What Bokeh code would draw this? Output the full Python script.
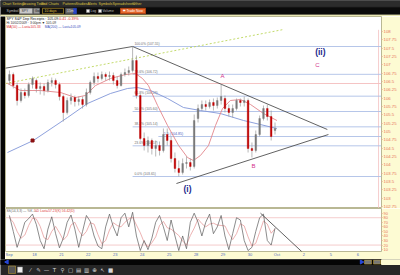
from bokeh.plotting import figure
from bokeh.layouts import column, row
from bokeh.models import Range1d, FixedTicker, LinearAxis, Label, ColumnDataSource
from bokeh.core.properties import value
from bokeh.embed import file_html
from bokeh.resources import INLINE

FONT = value("Liberation Sans")

# ---------------- data ----------------
session_labels = ["Sep", "18", "21", "22", "23", "24", "25", "28", "29", "30", "Oct", "2", "5", "6"]
bars_per_session = 7
traded_sessions = 10

opens = [106.53, 106.71, 106.38, 105.93, 106.17, 106.08, 106.41,
         106.53, 106.29, 106.35, 106.23, 106.47, 106.53, 106.41,
         106.05, 105.57, 105.93, 106.02, 105.90, 105.96, 105.81,
         106.17, 106.47, 106.65, 106.59, 106.71, 106.65, 106.68,
         106.53, 106.38, 106.71, 106.77, 106.83, 107.13, 106.08,
         104.79, 104.58, 104.73, 104.49, 104.58, 104.43, 104.91,
         104.73, 104.19, 103.89, 103.77, 104.04, 104.07, 103.95,
         105.39, 105.69, 105.81, 105.75, 105.87, 105.78, 105.93,
         105.99, 105.69, 105.57, 105.69, 105.93, 105.87, 105.93,
         104.49, 104.43, 104.91, 105.39, 105.69, 105.45, 105.03]
highs = [106.83, 106.77, 106.47, 106.29, 106.29, 106.47, 106.65,
         106.59, 106.47, 106.44, 106.56, 106.62, 106.59, 106.47,
         106.11, 106.02, 106.14, 106.08, 106.05, 106.05, 106.29,
         106.53, 106.77, 106.77, 106.80, 106.77, 106.80, 106.77,
         106.65, 106.77, 106.89, 106.95, 107.55, 107.28, 106.14,
         104.97, 104.85, 104.79, 104.73, 104.70, 105.09, 105.09,
         104.85, 104.37, 104.13, 104.19, 104.25, 104.19, 105.51,
         105.81, 105.93, 105.93, 105.96, 105.99, 106.02, 106.41,
         106.08, 105.81, 105.81, 105.99, 105.99, 106.05, 105.99,
         104.67, 105.03, 105.48, 105.78, 105.81, 105.63, 105.27]
lows = [106.41, 106.29, 105.78, 105.87, 105.99, 106.02, 106.29,
        106.17, 106.11, 106.08, 106.17, 106.35, 106.29, 105.93,
        105.30, 105.51, 105.81, 105.75, 105.78, 105.69, 105.75,
        106.11, 106.38, 106.47, 106.53, 106.53, 106.53, 106.41,
        106.29, 106.35, 106.65, 106.68, 106.77, 105.99, 104.73,
        104.43, 104.37, 104.31, 104.25, 104.28, 104.37, 104.58,
        104.07, 103.77, 103.65, 103.71, 103.89, 103.83, 103.89,
        105.27, 105.63, 105.63, 105.69, 105.63, 105.69, 105.81,
        105.57, 105.45, 105.42, 105.63, 105.75, 105.75, 104.37,
        104.22, 104.37, 104.85, 105.33, 105.33, 104.73, 104.91]
closes = [106.71, 106.38, 105.93, 106.17, 106.08, 106.41, 106.59,
          106.29, 106.35, 106.23, 106.47, 106.53, 106.41, 106.05,
          105.57, 105.93, 106.02, 105.90, 105.96, 105.81, 106.17,
          106.47, 106.65, 106.59, 106.71, 106.65, 106.68, 106.53,
          106.38, 106.71, 106.77, 106.83, 107.13, 106.08, 104.79,
          104.58, 104.73, 104.49, 104.58, 104.43, 104.91, 104.73,
          104.19, 103.89, 103.77, 104.04, 104.07, 103.95, 105.33,
          105.69, 105.81, 105.75, 105.87, 105.78, 105.93, 106.05,
          105.69, 105.57, 105.69, 105.93, 105.87, 105.93, 104.49,
          104.43, 104.91, 105.39, 105.69, 105.45, 104.85, 105.09]

ma_fast_t = [0.0, 0.48, 1.22, 1.97, 2.52, 2.89, 3.27, 3.82, 4.38, 4.75, 5.01, 5.23, 5.57,
             5.94, 6.35, 6.68, 6.90, 7.16, 7.46, 7.72, 7.98, 8.27, 8.65, 9.02, 9.50, 10.0]
ma_fast = [106.44, 106.23, 106.23, 106.17, 106.02, 106.08, 106.38, 106.59, 106.71, 106.74, 106.59,
           106.38, 105.78, 105.18, 104.58, 104.22, 104.13, 104.28, 104.58, 105.18, 105.69, 105.93,
           105.96, 105.81, 105.54, 105.33]
ma_slow_t = [0.0, 0.96, 2.23, 2.97, 3.82, 4.45, 4.82, 5.31, 5.94, 6.53, 7.16, 7.90, 8.76, 10.0]
ma_slow = [104.37, 104.73, 105.42, 105.84, 106.14, 106.29, 106.32, 106.23, 105.99, 105.72,
           105.63, 105.54, 105.33, 105.09]

stoch_k = [85, 50, 15, 40, 70, 78, 88, 65, 30, 12, 55, 82, 45, 14,
           35, 70, 86, 55, 15, 50, 85, 72, 40, 18, 12, 60, 88, 60,
           40, 80, 90, 60, 92, 40, 8, 30, 10, 35, 70, 85, 60, 30,
           75, 40, 8, 40, 12, 70, 90, 70, 40, 70, 88, 45, 60, 85,
           40, 10, 45, 80, 75, 30, 8, 15, 50, 80, 88, 30, 20, 57]
stoch_d = [80, 70, 50, 35, 42, 63, 79, 77, 61, 36, 32, 50, 61, 47,
           31, 40, 64, 70, 52, 40, 50, 69, 66, 43, 23, 30, 53, 69,
           63, 60, 70, 77, 81, 64, 47, 26, 16, 25, 38, 63, 72, 58,
           55, 48, 41, 29, 20, 41, 57, 77, 67, 60, 66, 68, 64, 63,
           62, 45, 32, 45, 67, 62, 38, 18, 24, 48, 73, 66, 46, 56]

fib_pcts = [0.0, 23.6, 38.2, 50.0, 61.8, 78.6, 100.0]
fib_low = 103.65
fib_high = 107.55
fib_start_t = 4.643
ext_label = "1.5 (104.85)"
ext_level = 104.85
ext_start_t = 5.60
ref_level = 106.44
price_ticks = [102.75, 103.00, 103.25, 103.50, 103.75, 104.00, 104.25, 104.50, 104.75,
               105.00, 105.25, 105.50, 105.75, 106.00, 106.25, 106.50, 106.75, 107.00,
               107.25, 107.50, 107.75, 108.00]
stoch_ticks = [10, 20, 30, 40, 50, 60, 70, 80, 90]
last_price = 105.09
net_change = -0.41
pct_change = -0.39

trend_top_t, trend_top_p = [-0.15, 4.643], [106.89, 107.55]
trend_upper_t, trend_upper_p = [4.643, 11.87], [107.55, 105.06]
trend_lower_t, trend_lower_p = [6.27, 11.91], [103.44, 104.91]
trend_green_t, trend_green_p = [-0.074, 10.24], [106.44, 108.06]
stoch_trend_t, stoch_trend_v = [9.39, 10.95], [90, 4]

wave_text = ["A", "B", "C", "(i)", "(ii)"]
wave_t = [7.98, 9.13, 11.50, 6.68, 11.61]
wave_p = [106.68, 103.98, 107.01, 103.29, 107.40]
event_t, event_p = [0.93], [104.73]

# ---------------- derived ----------------
bar_t = [s + (k + 0.5) / bars_per_session for s in range(traded_sessions) for k in range(bars_per_session)]
up = [c >= o for o, c in zip(opens, closes)]
src = ColumnDataSource(dict(
    t=bar_t, o=opens, h=highs, l=lows, c=closes,
    top=[max(o, c) for o, c in zip(opens, closes)],
    bot=[min(o, c) for o, c in zip(opens, closes)],
    col=["#7a7a7a" if u else "#c00000" for u in up],
))

YEL = "#fdfbd3"
xr = Range1d(-0.074, 13.88)

# ---------------- header ----------------
hdr = figure(width=400, height=16, x_range=Range1d(0, 400), y_range=Range1d(16, 0),
             toolbar_location=None, output_backend="svg", min_border=0,
             x_axis_location=None, y_axis_location=None)
hdr.background_fill_color = "#0b0b0b"
hdr.border_fill_color = "#0b0b0b"
hdr.outline_line_color = None
hdr.grid.visible = False
hdr.quad(left=0, right=400, top=0, bottom=6.3, color="#2c2c2c")
hdr.quad(left=0, right=400, top=14.6, bottom=16, color="#e9e7b4")
menu = ["Chart Settings", "Drawing Tools", "Grid Charts", "Patterns", "Studies",
        "Alerts", "Symbols", "Spreadsheets", "Other"]
menu_x = [2, 22, 40, 62, 75, 87, 98, 112, 132]
hdr.text(x=menu_x, y=[3.2] * len(menu), text=menu, text_font=FONT, text_font_size="3.6px",
         text_color="#dcc040", text_baseline="middle")
hdr.text(x=[6], y=[10.5], text=["Symbol"], text_font=FONT, text_font_size="3.6px",
         text_color="#bbbbbb", text_baseline="middle")
hdr.quad(left=[19, 33, 42, 65, 73], right=[32, 39, 63, 73, 76], top=[7.8] * 5, bottom=[13.2] * 5,
         fill_color=["#c8c8c8", "#9a9a9a", "#111111", "#6a6a6a", "#2a46c8"],
         line_color=["#888888", "#777777", "#c9a52c", "#555555", "#2a46c8"], line_width=0.6)
hdr.text(x=[21, 34.5, 44, 66.5], y=[10.5] * 4, text=["SPY", "Go", "10 days", "15m"], text_font=FONT,
         text_font_size="3.4px", text_color=["#333333", "#111111", "#e0c040", "#dddddd"],
         text_baseline="middle")
hdr.quad(left=[86, 98], right=[89, 101], top=[9] * 2, bottom=[12] * 2, fill_color="#eeeeee",
         line_color="#999999", line_width=0.5)
hdr.text(x=[90, 102], y=[10.5] * 2, text=["Log", "Volume"], text_font=FONT, text_font_size="3.4px",
         text_color="#bbbbbb", text_baseline="middle")
hdr.quad(left=120, right=145, top=7.8, bottom=13.2, fill_color="#e4662a", line_color="#b04010")
hdr.text(x=[122], y=[10.5], text=["⇄ Trade Now"], text_font=FONT, text_font_size="3.4px",
         text_color="#ffffff", text_baseline="middle")

# ---------------- main price panel ----------------
main = figure(width=395, height=192, x_range=xr, y_range=Range1d(102.69, 108.45),
              toolbar_location=None, output_backend="svg", min_border=0, min_border_right=19,
              x_axis_location=None, y_axis_location=None)
main.background_fill_color = "white"
main.border_fill_color = YEL
main.outline_line_color = "#b9b894"
main.grid.visible = False

yax = LinearAxis(ticker=FixedTicker(ticks=price_ticks))
yax.formatter.use_scientific = False
yax.major_label_text_font_size = "4.3px"
yax.major_label_text_color = "#e8735a"
yax.major_label_text_font = "Liberation Sans"
yax.major_label_standoff = 1
yax.major_tick_out = 1
yax.major_tick_in = 0
yax.major_tick_line_color = "#e8a090"
yax.minor_tick_line_color = None
yax.axis_line_color = None
main.add_layout(yax, "right")

# reference lines
main.segment(x0=[xr.start], y0=[ref_level], x1=[xr.end], y1=[ref_level], line_color="#f2b5b5", line_width=0.8)
main.segment(x0=[13.77], y0=[108.05], x1=[13.77], y1=[102.69], line_color="#f4c0c0", line_width=0.8)
fib_levels = [fib_low + (fib_high - fib_low) * p / 100 for p in fib_pcts]
main.segment(x0=[fib_start_t] * len(fib_levels), y0=fib_levels, x1=[xr.end] * len(fib_levels),
             y1=fib_levels, line_color="#aebfe6", line_width=0.9)
main.segment(x0=[ext_start_t], y0=[ext_level], x1=[xr.end], y1=[ext_level], line_color="#aebfe6",
             line_width=0.9)
main.text(x=[fib_start_t + 0.07] * len(fib_levels), y=[v + 0.02 for v in fib_levels],
          text=["%.1f%% (%.2f)" % (p, v) for p, v in zip(fib_pcts, fib_levels)],
          text_font=FONT, text_font_size="3.4px", text_color="#707070", text_baseline="bottom")
main.text(x=[ext_start_t + 0.2], y=[ext_level + 0.02], text=[ext_label], text_font=FONT,
          text_font_size="3.6px", text_color="#4a62c0", text_baseline="bottom")

# moving averages
main.line(ma_slow_t, ma_slow, line_color="#8196d8", line_width=0.9)
main.line(ma_fast_t, ma_fast, line_color="#e2858a", line_width=0.9)

# trend lines
main.line(trend_green_t, trend_green_p, line_color="#bcd65a", line_width=0.9, line_dash="2 2")
for tx, py in [(trend_top_t, trend_top_p), (trend_upper_t, trend_upper_p), (trend_lower_t, trend_lower_p)]:
    main.line(tx, py, line_color="#3a3a3a", line_width=0.8)

# bars
main.segment(x0="t", y0="h", x1="t", y1="l", source=src, line_color="#9a9a9a", line_width=0.7)
main.vbar(x="t", top="top", bottom="bot", width=0.06, source=src, fill_color="col", line_color="col",
          line_width=0.4)

main.scatter(event_t, event_p, marker="square", size=3, color="#8b1010")

# wave labels
main.text(x=wave_t[:3], y=wave_p[:3], text=wave_text[:3], text_font=FONT, text_font_size="6px",
          text_color="#d3338d", text_align="center", text_baseline="middle")
main.text(x=wave_t[3:], y=wave_p[3:], text=wave_text[3:], text_font=FONT, text_font_size="8.5px",
          text_font_style="bold", text_color="#1c2a8c", text_align="center", text_baseline="middle")

# header lines inside panel
main.add_layout(Label(x=-0.04, y=108.44, text="SPY S&P Dep Receipts : %.2f" % last_price,
                      text_font="Liberation Sans", text_font_size="3.6px", text_color="#111111",
                      text_baseline="top"))
main.add_layout(Label(x=1.88, y=108.44, text="%.2f   %.2f%%" % (net_change, pct_change),
                      text_font="Liberation Sans", text_font_size="3.6px", text_color="#e02020",
                      text_baseline="top"))
main.add_layout(Label(x=-0.04, y=108.31, text="Hi 10/02/2009 · 3:00pm ▼ %.2f" % last_price,
                      text_font="Liberation Sans", text_font_size="3.3px", text_color="#333333",
                      text_baseline="top"))
main.add_layout(Label(x=-0.04, y=108.19, text="MA(50) — Last=%.2f" % ma_fast[-1],
                      text_font="Liberation Sans", text_font_size="3.3px", text_color="#e03030",
                      text_baseline="top"))
main.add_layout(Label(x=1.38, y=108.19, text="MA(200) — Last=%.2f" % ma_slow[-1],
                      text_font="Liberation Sans", text_font_size="3.3px", text_color="#3a50c0",
                      text_baseline="top"))
main.add_layout(Label(x=xr.end, y=last_price, x_offset=0.5, text="%.2f" % last_price,
                      text_font="Liberation Sans", text_font_size="4.3px", text_color="white",
                      background_fill_color="#111111", text_baseline="middle"))

# ---------------- stochastic panel ----------------
ind = figure(width=395, height=51, x_range=xr, y_range=Range1d(5.9, 100.26),
             toolbar_location=None, output_backend="svg", min_border=0, min_border_right=19,
             min_border_bottom=5, x_axis_location=None, y_axis_location=None)
ind.background_fill_color = "white"
ind.border_fill_color = YEL
ind.outline_line_color = "#b9b894"
ind.grid.visible = False

iax = LinearAxis(ticker=FixedTicker(ticks=stoch_ticks))
iax.major_label_text_font_size = "4px"
iax.major_label_text_color = "#e8735a"
iax.major_label_text_font = "Liberation Sans"
iax.major_label_standoff = 1
iax.major_tick_out = 1
iax.major_tick_in = 0
iax.major_tick_line_color = "#e8a090"
iax.minor_tick_line_color = None
iax.axis_line_color = None
ind.add_layout(iax, "right")

xax = LinearAxis(ticker=FixedTicker(ticks=list(range(len(session_labels)))))
xax.major_label_overrides = {i: s for i, s in enumerate(session_labels)}
xax.major_label_text_font_size = "4px"
xax.major_label_text_color = "#4f6cc4"
xax.major_label_text_font = "Liberation Sans"
xax.major_label_standoff = 0
xax.major_tick_out = 0
xax.major_tick_in = 0
xax.major_tick_line_color = None
xax.minor_tick_line_color = None
xax.axis_line_color = None
ind.add_layout(xax, "below")

ind.segment(x0=[xr.start] * 2, y0=[80, 20], x1=[xr.end] * 2, y1=[80, 20], line_color="#f3c6c6", line_width=0.9)
ind.line(bar_t, stoch_d, line_color="#e49090", line_width=0.7)
ind.line(bar_t, stoch_k, line_color="#5a5a5a", line_width=0.7)
ind.line(stoch_trend_t, stoch_trend_v, line_color="#3a3a3a", line_width=0.8)
ind.add_layout(Label(x=-0.04, y=99.5, text="SS(14,3,3) — %K —", text_font="Liberation Sans",
                     text_font_size="3.3px", text_color="#666666", text_baseline="top"))
ind.add_layout(Label(x=0.98, y=99.5, text="%%D  Last=%.2f(K) %.2f(D)" % (57.23, 56.42),
                     text_font="Liberation Sans", text_font_size="3.3px", text_color="#e04040",
                     text_baseline="top"))

# ---------------- left strip ----------------
strip = figure(width=5, height=243, toolbar_location=None, output_backend="svg", min_border=0,
               x_axis_location=None, y_axis_location=None)
strip.background_fill_color = "#050505"
strip.border_fill_color = "#050505"
strip.outline_line_color = None
strip.grid.visible = False

# ---------------- footer ----------------
ftr = figure(width=400, height=16, x_range=Range1d(0, 400), y_range=Range1d(16, 0),
             toolbar_location=None, output_backend="svg", min_border=0,
             x_axis_location=None, y_axis_location=None)
ftr.background_fill_color = "#262626"
ftr.border_fill_color = "#262626"
ftr.outline_line_color = None
ftr.grid.visible = False
ftr.quad(left=0, right=381, top=0, bottom=5, color="#050505")
ftr.quad(left=381, right=400, top=0, bottom=5, color=YEL)
ftr.scatter(x=[6.5, 361], y=[2.5, 2.5], marker="triangle", angle=[1.5708, -1.5708], size=4, color="#2848d8")
ftr.quad(left=[364, 373], right=[371, 380], top=[0.6] * 2, bottom=[4.6] * 2, fill_color="#777777",
         line_color="#c9a52c", line_width=0.5)
ftr.quad(left=8, right=15, top=6.5, bottom=14, fill_color="#555555", line_color="#c9a52c", line_width=0.5)
ftr.quad(left=17, right=22, top=7.5, bottom=13, fill_color="#eeeeee", line_color="#999999", line_width=0.5)
icons = ["⁄", "✎", "—", "T", "⚲", "▢", "▤", "▥", "⊕", "↖", "■"]
icon_x = [30, 38, 46, 54, 62, 70, 78, 86, 94, 102, 110]
ftr.text(x=icon_x, y=[10.5] * len(icons), text=icons, text_font=value("DejaVu Sans"), text_font_size="5.5px",
         text_color="#d8d8d8", text_align="center", text_baseline="middle")

layout = column(hdr, row(strip, column(main, ind)), ftr)
open("out.html", "w").write(file_html(layout, INLINE))
